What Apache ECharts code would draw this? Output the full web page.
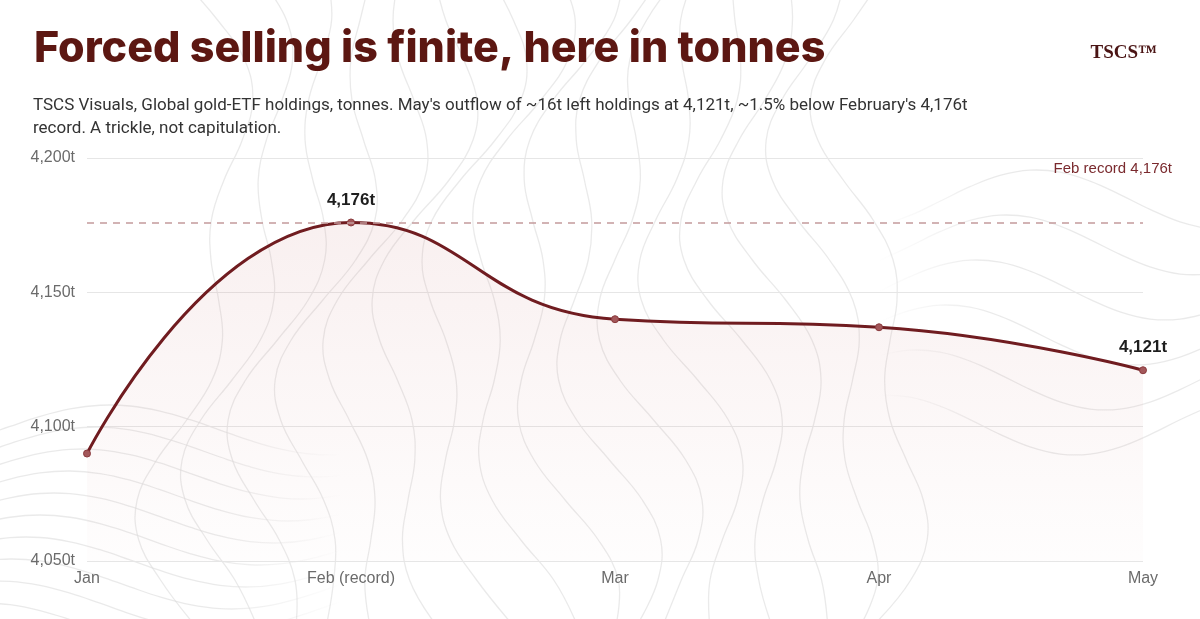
<!DOCTYPE html>
<html><head><meta charset="utf-8">
<script src="https://cdn.jsdelivr.net/npm/echarts@6/dist/echarts.min.js"></script>
<style>html,body{margin:0;padding:0;background:#fff}#c{width:1200px;height:619px}</style>
</head><body><div id="c"></div>
<script>
const categories = ['Jan', 'Feb (record)', 'Mar', 'Apr', 'May'];
const holdings = [4090, 4176, 4140, 4137, 4121];
const labelled = [false, true, false, false, true];
const recordValue = 4176;
const yTicks = { min: 4050, max: 4200, interval: 50 };

const chart = echarts.init(document.getElementById('c'));
const fmt = v => v.toLocaleString('en-US') + 't';

// faint decorative topographic background lines
const G = echarts.graphic;
const fadeH = (rev) => new G.LinearGradient(0, 0, 1, 0, rev
  ? [{ offset: 0, color: 'rgba(220,220,220,0)' }, { offset: 0.35, color: 'rgba(220,220,220,0.6)' }, { offset: 1, color: 'rgba(220,220,220,0.6)' }]
  : [{ offset: 0, color: 'rgba(220,220,220,0.6)' }, { offset: 0.65, color: 'rgba(220,220,220,0.6)' }, { offset: 1, color: 'rgba(220,220,220,0)' }]);
const deco = [];
for (let k = 0; k < 16; k++) {
  const x0 = 200 + k * 45;
  const pts = [];
  for (let y = -20; y <= 640; y += 40) {
    pts.push([x0 + 40 * Math.sin(y / 110 + k * 0.25) + 25 * Math.sin(y / 47 + k), y]);
  }
  deco.push({ type: 'polyline', silent: true, z: -10, shape: { points: pts, smooth: 0.4 },
              style: { stroke: 'rgba(220,220,220,0.6)', lineWidth: 1.3, fill: null } });
}
for (let k = 0; k < 10; k++) {
  const y0 = 430 + k * 22;
  const pts = [];
  for (let x = -20; x <= 340; x += 30) {
    pts.push([x, y0 - 25 * Math.sin(x / 70 + k * 0.2)]);
  }
  deco.push({ type: 'polyline', silent: true, z: -10, shape: { points: pts, smooth: 0.4 },
              style: { stroke: fadeH(false), lineWidth: 1.3, fill: null } });
}
for (let k = 0; k < 6; k++) {
  const pts = [];
  for (let x = 880; x <= 1230; x += 30) {
    pts.push([x, 200 + k * 45 + 30 * Math.sin(x / 60 + k * 0.5)]);
  }
  deco.push({ type: 'polyline', silent: true, z: -10, shape: { points: pts, smooth: 0.4 },
              style: { stroke: fadeH(true), lineWidth: 1.3, fill: null } });
}

chart.setOption({
  backgroundColor: '#ffffff',
  animation: false,
  graphic: deco,
  title: [{
    text: 'Forced selling is finite, here in tonnes',
    left: 29, top: 23,
    textStyle: { fontFamily: 'Inter', fontWeight: 800, fontSize: 43, color: '#5c1712' }
  }, {
    text: "TSCS Visuals, Global gold-ETF holdings, tonnes. May's outflow of ~16t left holdings at 4,121t, ~1.5% below February's 4,176t\nrecord. A trickle, not capitulation.",
    left: 28, top: 89,
    textStyle: { fontFamily: 'Roboto', fontWeight: 400, fontSize: 17, color: '#333333', lineHeight: 23 }
  }, {
    text: 'TSCS™',
    right: 38, top: 39,
    textStyle: { fontFamily: 'Liberation Serif', fontWeight: 'bold', fontSize: 19, color: '#4a1414' }
  }],
  grid: { left: 87, right: 57, top: 158, bottom: 58 },
  xAxis: {
    type: 'category', data: categories, boundaryGap: false,
    axisLine: { show: false }, axisTick: { show: false },
    axisLabel: { color: '#6b6b6b', fontSize: 16, fontFamily: 'Liberation Sans', margin: 10 }
  },
  yAxis: {
    type: 'value', min: yTicks.min, max: yTicks.max, interval: yTicks.interval,
    axisLine: { show: false }, axisTick: { show: false },
    axisLabel: { color: '#6b6b6b', fontSize: 16, fontFamily: 'Liberation Sans', margin: 12, formatter: fmt, verticalAlign: 'middle' },
    splitLine: { lineStyle: { color: '#e6e6e6', width: 1 } }
  },
  series: [{
    type: 'line', smooth: 0.5,
    data: holdings.map((v, i) => ({
      value: v,
      label: { show: labelled[i], position: 'top', distance: 10, formatter: p => fmt(p.value),
               fontWeight: 'bold', fontSize: 17, color: '#1e1e1e', fontFamily: 'Liberation Sans' }
    })),
    symbol: 'circle', symbolSize: 7,
    itemStyle: { color: '#a3575a', borderColor: '#8a3a3d', borderWidth: 1 },
    lineStyle: { color: '#701c20', width: 3 },
    areaStyle: {
      color: new echarts.graphic.LinearGradient(0, 0, 0, 1, [
        { offset: 0, color: 'rgba(200,120,120,0.16)' },
        { offset: 1, color: 'rgba(200,120,120,0.02)' }
      ]),
      origin: 'start'
    },
    markLine: {
      silent: true, symbol: 'none',
      lineStyle: { color: '#c49a9c', type: [7, 6], width: 1.5 },
      label: {
        show: true, position: 'insideEndTop', formatter: 'Feb record 4,176t',
        color: '#7a2a2e', fontSize: 15, fontFamily: 'Liberation Sans', offset: [34, -41]
      },
      data: [{ yAxis: recordValue }]
    }
  }]
});
</script></body></html>
